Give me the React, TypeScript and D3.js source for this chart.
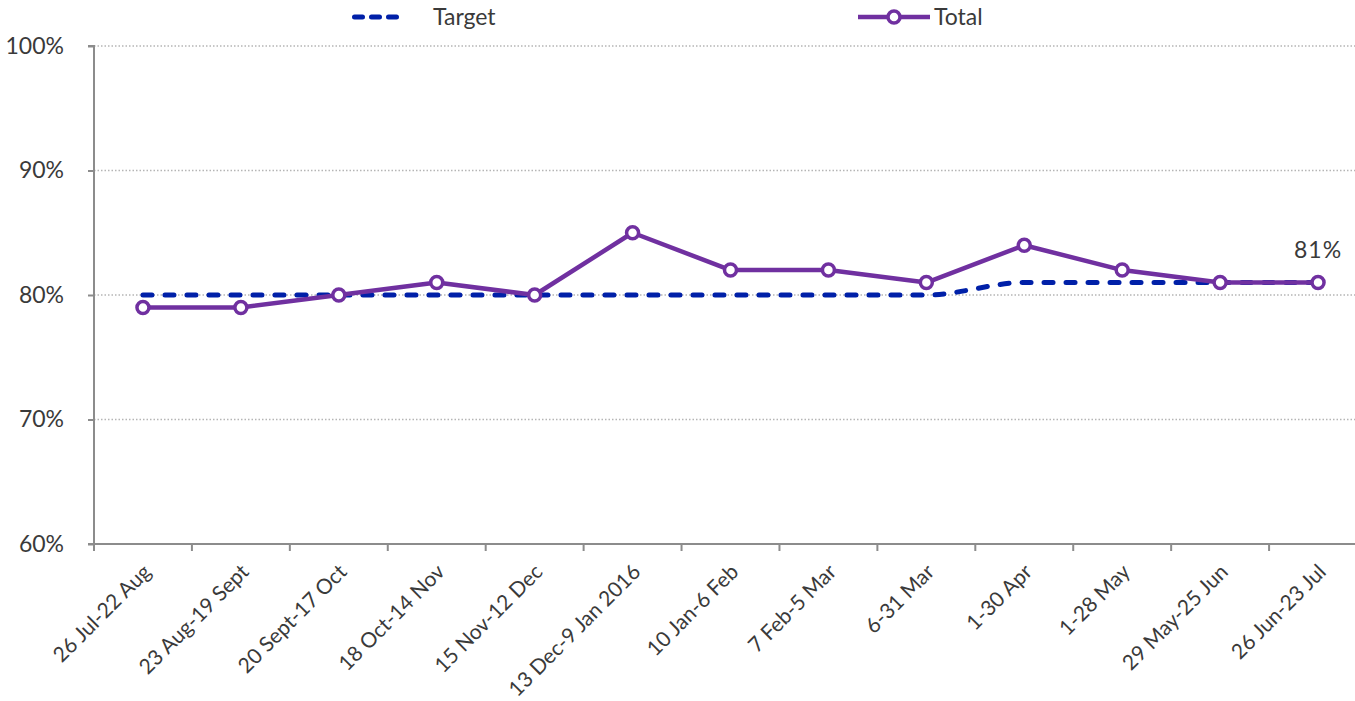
import React, { useEffect, useRef } from 'react';
import * as d3 from 'd3';

const periods = [
  '26 Jul-22 Aug', '23 Aug-19 Sept', '20 Sept-17 Oct', '18 Oct-14 Nov', '15 Nov-12 Dec',
  '13 Dec-9 Jan 2016', '10 Jan-6 Feb', '7 Feb-5 Mar', '6-31 Mar', '1-30 Apr', '1-28 May',
  '29 May-25 Jun', '26 Jun-23 Jul',
];
const totalValues = [79, 79, 80, 81, 80, 85, 82, 82, 81, 84, 82, 81, 81];
const targetValues = [80, 80, 80, 80, 80, 80, 80, 80, 80, 81, 81, 81, 81];
const yTicks = [60, 70, 80, 90, 100];

const W = 1355;
const H = 701;
const FONT = 'Lato, "Open Sans", sans-serif';
const TEXT = '#3a3a3a';
const PURPLE = '#7030a0';
const BLUE = '#0020a8';

const App = () => {
  const svgRef = useRef<SVGSVGElement>(null);

  useEffect(() => {
    document.body.style.margin = '0';
    const svg = d3.select(svgRef.current);
    svg.selectAll('*').remove();

    const margin = { top: 46, right: -12, bottom: 157, left: 94 };
    const x = d3.scaleBand().domain(periods).range([margin.left, W - margin.right]).padding(0);
    const y = d3.scaleLinear().domain([60, 100]).range([H - margin.bottom, margin.top]);
    const cx = (d: string) => (x(d) as number) + x.bandwidth() / 2;

    // gridlines
    svg.append('g')
      .selectAll('line')
      .data(yTicks.slice(1))
      .join('line')
      .attr('x1', margin.left)
      .attr('x2', W)
      .attr('y1', d => y(d))
      .attr('y2', d => y(d))
      .attr('stroke', '#b5b5b5')
      .attr('stroke-width', 1.3)
      .attr('stroke-dasharray', '1.5,2');

    // y axis
    const yAxis = svg.append('g')
      .attr('transform', `translate(${margin.left},0)`)
      .call(d3.axisLeft(y).tickValues(yTicks).tickSize(6).tickPadding(24).tickFormat(d => `${d}%`));
    yAxis.selectAll('path, line').attr('stroke', '#8c8c8c').attr('stroke-width', 2);
    yAxis.select('.domain').attr('d', `M-6,${y(100)}H0V${y(60)}`);
    yAxis.selectAll('text')
      .attr('fill', TEXT)
      .style('font-family', FONT)
      .style('font-size', '23px');

    // x axis
    const xAxis = svg.append('g').attr('transform', `translate(0,${y(60)})`);
    xAxis.append('line')
      .attr('x1', margin.left - 6).attr('x2', W)
      .attr('stroke', '#8c8c8c').attr('stroke-width', 2);
    xAxis.selectAll('line.tick')
      .data(periods)
      .join('line')
      .attr('class', 'tick')
      .attr('x1', d => x(d) as number)
      .attr('x2', d => x(d) as number)
      .attr('y2', 7)
      .attr('stroke', '#8c8c8c').attr('stroke-width', 2);
    xAxis.selectAll('text')
      .data(periods)
      .join('text')
      .attr('transform', d => `translate(${cx(d) + 4},${24}) rotate(-45)`)
      .attr('text-anchor', 'end')
      .attr('dy', '0.35em')
      .attr('fill', TEXT)
      .style('font-family', FONT)
      .style('font-size', '21px')
      .text(d => d);

    // target line
    const targetLine = d3.line<number>()
      .x((_, i) => cx(periods[i]))
      .y(d => y(d))
      .curve(d3.curveMonotoneX);
    svg.append('path')
      .datum(targetValues)
      .attr('fill', 'none')
      .attr('stroke', BLUE)
      .attr('stroke-width', 5)
      .attr('stroke-linecap', 'round')
      .attr('stroke-dasharray', '9,13')
      .attr('d', targetLine);

    // total line
    const totalLine = d3.line<number>()
      .x((_, i) => cx(periods[i]))
      .y(d => y(d));
    svg.append('path')
      .datum(totalValues)
      .attr('fill', 'none')
      .attr('stroke', PURPLE)
      .attr('stroke-width', 4.5)
      .attr('stroke-linejoin', 'round')
      .attr('d', totalLine);
    svg.selectAll('circle.pt')
      .data(totalValues)
      .join('circle')
      .attr('class', 'pt')
      .attr('cx', (_, i) => cx(periods[i]))
      .attr('cy', d => y(d))
      .attr('r', 6)
      .attr('fill', 'white')
      .attr('stroke', PURPLE)
      .attr('stroke-width', 3.5);

    // last value label
    const last = totalValues.length - 1;
    svg.append('text')
      .attr('x', cx(periods[last]))
      .attr('y', y(totalValues[last]) - 25)
      .attr('text-anchor', 'middle')
      .attr('fill', TEXT)
      .style('font-family', FONT)
      .style('font-size', '23px')
      .style('letter-spacing', '1px')
      .text(`${totalValues[last]}%`);

    // legend
    const legend = svg.append('g').style('font-family', FONT).style('font-size', '23px');
    legend.append('line')
      .attr('x1', 354.5).attr('x2', 396.5).attr('y1', 17).attr('y2', 17)
      .attr('stroke', BLUE).attr('stroke-width', 5)
      .attr('stroke-linecap', 'round').attr('stroke-dasharray', '8,9');
    legend.append('text')
      .attr('x', 433).attr('y', 17).attr('dy', '0.35em')
      .attr('fill', TEXT).text('Target');
    legend.append('line')
      .attr('x1', 858).attr('x2', 930).attr('y1', 17).attr('y2', 17)
      .attr('stroke', PURPLE).attr('stroke-width', 4.5);
    legend.append('circle')
      .attr('cx', 894).attr('cy', 17).attr('r', 6)
      .attr('fill', 'white').attr('stroke', PURPLE).attr('stroke-width', 3.5);
    legend.append('text')
      .attr('x', 934).attr('y', 17).attr('dy', '0.35em')
      .attr('fill', TEXT).text('Total');
  }, []);

  return <svg ref={svgRef} width={W} height={H} style={{ display: 'block' }} />;
};

export default App;
